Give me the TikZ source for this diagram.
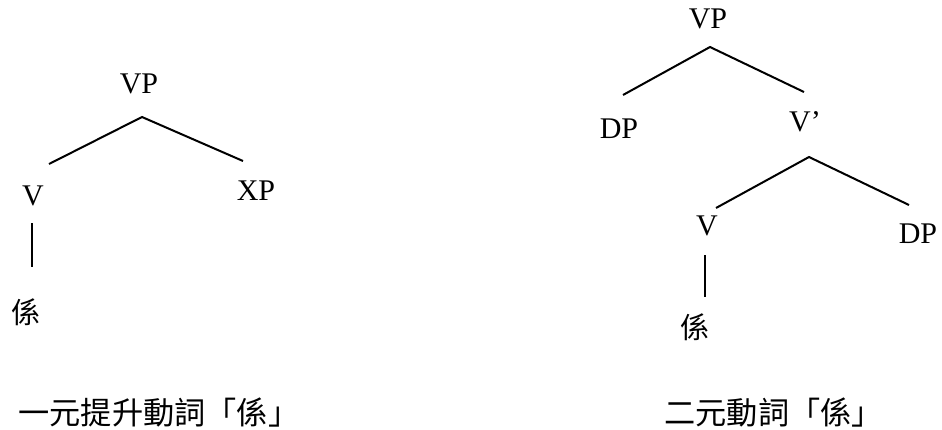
\documentclass[tikz,border=0pt]{standalone}
\usepackage{fontspec}
\setmainfont{Liberation Serif}
\newfontfamily\cjk{Noto Sans CJK TC}
\tikzset{
    cat/.style={
           inner sep=0pt,
           font=\fontsize{15}{18}\selectfont
           },
    word/.style={
           inner sep=0pt,
           font=\fontsize{14.5}{17}\selectfont\cjk
           },
    caption/.style={
           inner sep=0pt,
           anchor=west,
           font=\fontsize{15.6}{18}\selectfont\cjk
           },
    branch/.style={
           line width=1pt
           }
}
\begin{document}
\begin{tikzpicture}[x=0.5pt,y=-0.5pt]
   \useasboundingbox (0,0) rectangle (942,429);
   % left tree
   \node[cat] (vp1) at (139,84) {VP};
   \node[cat] (v1) at (33,196) {V};
   \node[cat] (xp1) at (256,191) {XP};
   \node[word] (xi1) at (26,312) {係};
   \coordinate (vp1-b) at (142,117);
   \coordinate (v1-t) at (49,164);
   \coordinate (xp1-t) at (243,161);
   \coordinate (v1-b) at (32,223);
   \coordinate (xi1-t) at (32,267);
   \draw[branch] (v1-t) -- (vp1-b) -- (xp1-t);
   \draw[branch] (v1-b) -- (xi1-t);
   % right tree
   \node[cat] (vp2) at (708,19) {VP};
   \node[cat] (dp2) at (619,129) {DP};
   \node[cat] (vbar2) at (805,122) {V’};
   \node[cat] (v2) at (707,226) {V};
   \node[cat] (dp3) at (918,234) {DP};
   \node[word] (xi2) at (695,327) {係};
   \coordinate (vp2-b) at (710,47);
   \coordinate (dp2-t) at (623,95);
   \coordinate (vbar2-t) at (804,92);
   \coordinate (vbar2-b) at (809,157);
   \coordinate (v2-t) at (716,208);
   \coordinate (dp3-t) at (909,205);
   \coordinate (v2-b) at (705,255);
   \coordinate (xi2-t) at (705,297);
   \draw[branch] (dp2-t) -- (vp2-b) -- (vbar2-t);
   \draw[branch] (v2-t) -- (vbar2-b) -- (dp3-t);
   \draw[branch] (v2-b) -- (xi2-t);
   % captions
   \node[caption] (cap1) at (18,412) {一元提升動詞「係」};
   \node[caption] (cap2) at (664,412) {二元動詞「係」};
\end{tikzpicture}
\end{document}
